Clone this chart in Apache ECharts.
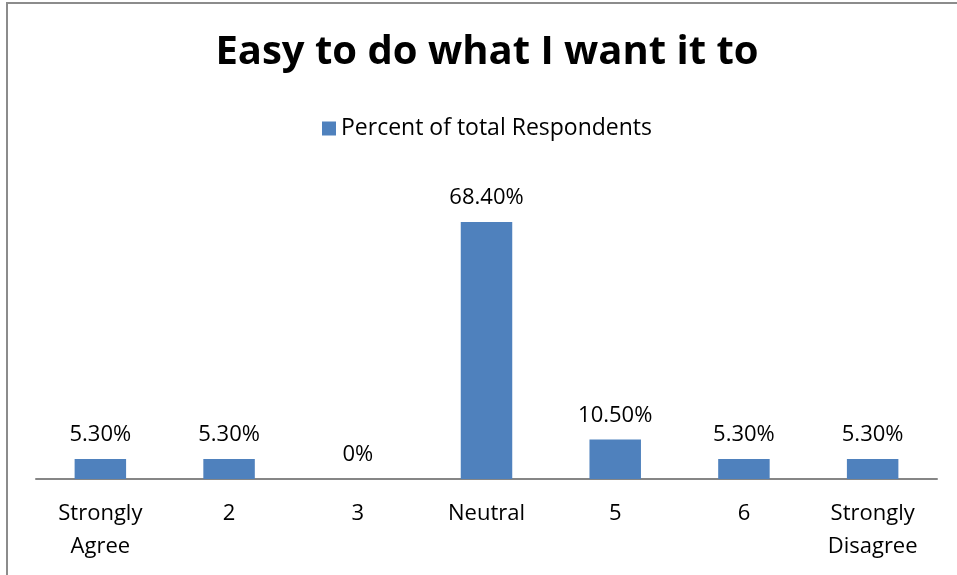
<!DOCTYPE html>
<html>
<head>
<meta charset="utf-8">
<script src="https://cdn.jsdelivr.net/npm/echarts@6/dist/echarts.min.js"></script>
<style>
  html, body { margin: 0; padding: 0; background: #fff; overflow: hidden; width: 957px; height: 575px; }
  #frame { position: absolute; left: 6px; top: 2px; width: 962px; height: 600px; border: 2px solid #8c8c8c; box-sizing: border-box; }
  #chart { position: absolute; left: 0; top: 0; width: 974px; height: 575px; }
</style>
</head>
<body>
<div id="frame"></div>
<div id="chart"></div>
<script>
// Survey responses: "Easy to do what I want it to"
const categories = ['Strongly\nAgree', '2', '3', 'Neutral', '5', '6', 'Strongly\nDisagree'];
const percentValues = [5.3, 5.3, 0, 68.4, 10.5, 5.3, 5.3];
const valueLabels = ['5.30%', '5.30%', '0%', '68.40%', '10.50%', '5.30%', '5.30%'];
const seriesName = 'Percent of total Respondents';
const titleText = 'Easy to do what I want it to';

const FONT = 'Open Sans';
const chart = echarts.init(document.getElementById('chart'), null, { renderer: 'canvas' });

chart.setOption({
  animation: false,
  backgroundColor: 'transparent',
  title: {
    text: titleText,
    left: 'center',
    top: 28,
    textStyle: { fontFamily: FONT, fontWeight: 'bold', fontSize: 40, color: '#000' }
  },
  legend: {
    data: [seriesName],
    top: 112,
    left: 'center',
    icon: 'rect',
    itemWidth: 14,
    itemHeight: 14,
    itemGap: 6,
    textStyle: { fontFamily: FONT, fontSize: 23, color: '#000' }
  },
  grid: { left: 36, right: 37, top: 178.4, bottom: 96, containLabel: false },
  xAxis: {
    type: 'category',
    data: categories,
    axisLine: { lineStyle: { color: '#868686', width: 2 } },
    axisTick: { show: false },
    axisLabel: {
      interval: 0,
      margin: 18,
      fontFamily: FONT,
      fontSize: 22,
      lineHeight: 33,
      color: '#000'
    }
  },
  yAxis: {
    type: 'value',
    min: 0,
    max: 80,
    show: false,
    splitLine: { show: false }
  },
  series: [{
    name: seriesName,
    type: 'bar',
    data: percentValues,
    barWidth: '40%',
    itemStyle: { color: '#4F81BD' },
    label: {
      show: true,
      position: 'top',
      distance: 13,
      fontFamily: FONT,
      fontSize: 22,
      color: '#000',
      formatter: p => valueLabels[p.dataIndex]
    }
  }]
});
</script>
</body>
</html>
